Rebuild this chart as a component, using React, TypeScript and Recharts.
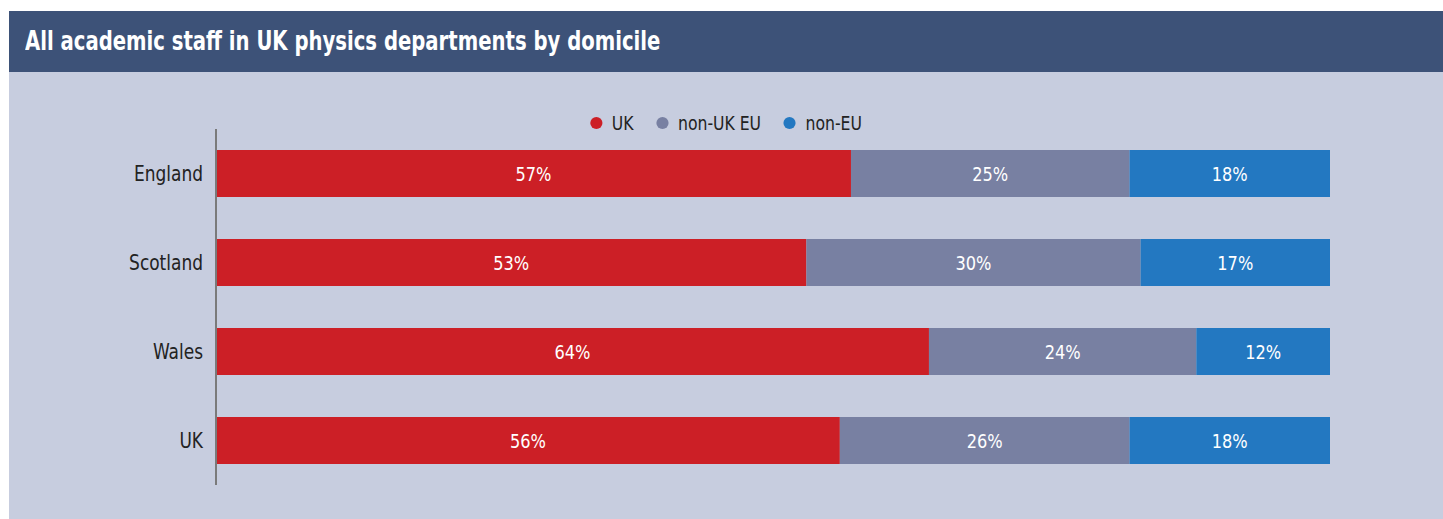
import { BarChart, Bar, XAxis, YAxis, LabelList } from 'recharts';

const REGIONS = ['England', 'Scotland', 'Wales', 'UK'];
const UK = [57, 53, 64, 56];
const NON_UK_EU = [25, 30, 24, 26];
const NON_EU = [18, 17, 12, 18];

const SERIES = [
    { key: 'uk', name: 'UK', color: '#cc1f26' },
    { key: 'eu', name: 'non-UK EU', color: '#7880a2' },
    { key: 'nonEu', name: 'non-EU', color: '#2378c1' },
];

const FONT = '"Liberation Sans Narrow", "DejaVu Sans Condensed", "Roboto Condensed", Roboto, sans-serif';

const data = REGIONS.map((region, i) => ({ region, uk: UK[i], eu: NON_UK_EU[i], nonEu: NON_EU[i] }));

// condensed look: squeeze text horizontally
const RegionTick = ({ x, y, payload }: any) => (
    <text transform={`translate(${x},${y}) scale(0.9,1)`} textAnchor="end" dy="0.36em"
        fontSize={21} fill="#222" fontFamily={FONT}>{payload.value}</text>
);

const PctLabel = ({ x, y, width, height, value }: any) => (
    <text transform={`translate(${x + width / 2},${y + height / 2}) scale(0.9,1)`} textAnchor="middle" dy="0.36em"
        fontSize={20} fill="#fff" fontFamily={FONT}>{`${value}%`}</text>
);

export default function App() {
    return (
        <div style={{ position: 'absolute', left: 0, top: 0, width: 1443, height: 519, fontFamily: FONT, overflow: 'hidden' }}>
            <div style={{ position: 'absolute', left: 9, top: 11, width: 1434, height: 508, background: '#c7cddf' }} />
            <div style={{
                position: 'absolute', left: 9, top: 11, width: 1434, height: 61, background: '#3d5278',
                color: '#fff', fontWeight: 700, fontSize: 26, lineHeight: '61px', paddingLeft: 16, boxSizing: 'border-box',
                whiteSpace: 'nowrap',
            }}>
                <span style={{ display: 'inline-block', transform: 'scaleX(0.84)', transformOrigin: 'left center' }}>
                    All academic staff in UK physics departments by domicile
                </span>
            </div>
            <div style={{
                position: 'absolute', left: 0, top: 111, width: 1452, display: 'flex', justifyContent: 'center',
                transform: 'scaleX(0.87)', transformOrigin: '726px 0',
            }}>
                {SERIES.map((s) => (
                    <span key={s.key} style={{ display: 'inline-flex', alignItems: 'center', margin: '0 13px', fontSize: 20, color: '#222' }}>
                        <span style={{ width: 14, height: 12, borderRadius: '50%', background: s.color, display: 'inline-block', marginRight: 11 }} />
                        {s.name}
                    </span>
                ))}
            </div>
            <div style={{ position: 'absolute', left: 0, top: 72 }}>
                <BarChart width={1443} height={447} data={data} layout="vertical"
                    margin={{ top: 57, right: 113, bottom: 34, left: 0 }} barSize={47}>
                    <XAxis type="number" domain={[0, 100]} hide />
                    <YAxis type="category" dataKey="region" width={216} tickLine={false}
                        axisLine={{ stroke: '#7a7a7a', strokeWidth: 2 }}
                        tick={<RegionTick />} tickMargin={7} />
                    {SERIES.map((s) => (
                        <Bar key={s.key} dataKey={s.key} name={s.name} stackId="a" fill={s.color} isAnimationActive={false}>
                            <LabelList dataKey={s.key} content={<PctLabel />} />
                        </Bar>
                    ))}
                </BarChart>
            </div>
        </div>
    );
}
